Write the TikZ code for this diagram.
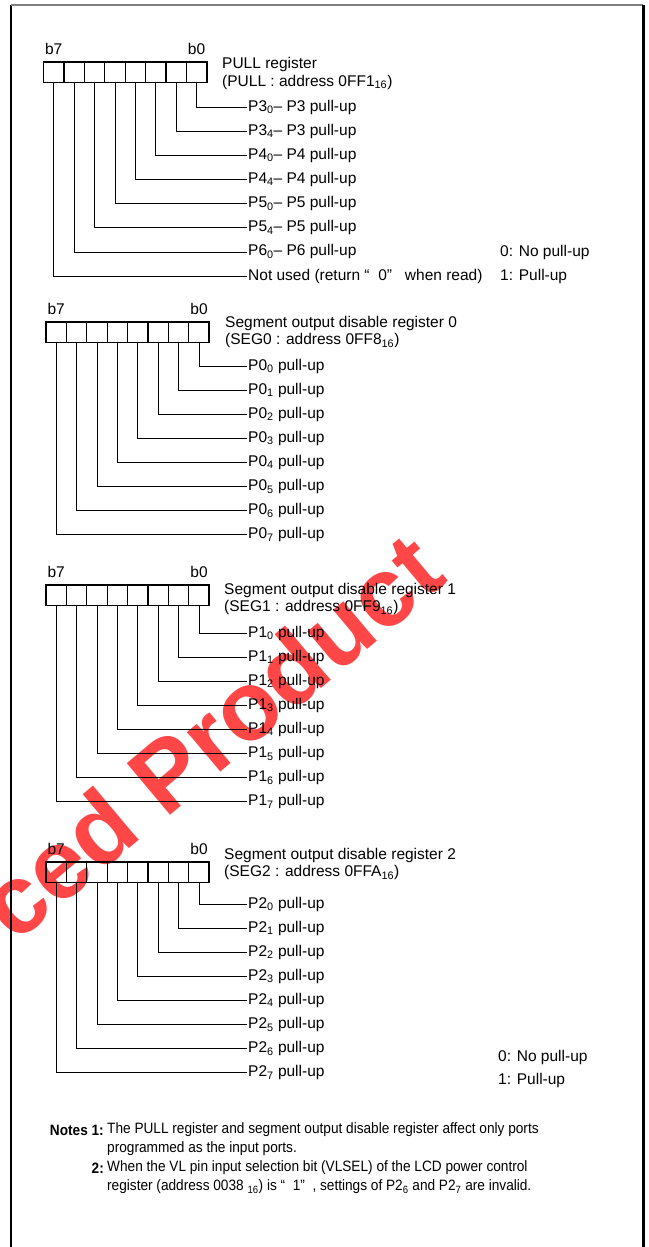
\documentclass[tikz,border=0pt]{standalone}
\usepackage{fontspec}
\setmainfont{Liberation Sans}
\newfontfamily\notesfont[FakeStretch=0.91]{Liberation Sans}
\usetikzlibrary{positioning}

\newcommand{\sbs}[1]{\textsubscript{#1}}

\tikzset{
  cell/.style={draw, line width=1.2pt, minimum width=20.4pt, minimum height=20.5pt, inner sep=0pt, outer sep=0pt},
  bitlbl/.style={inner sep=0pt},
  portlbl/.style={anchor=west, inner xsep=1pt, inner ysep=0pt},
  conn/.style={line width=0.8pt},
  frame/.style={line width=2.4pt},
  note/.style={anchor=west, inner sep=0pt, font=\notesfont\fontsize{15}{17}\selectfont},
  notehead/.style={anchor=east, inner sep=0pt, font=\notesfont\fontsize{15}{17}\selectfont\bfseries},
}

\begin{document}
\begin{tikzpicture}[x=1pt, y=-1pt, font=\fontsize{15.5}{17.5}\selectfont]
\useasboundingbox (0,0) rectangle (648,1247);

% watermark
\node[rotate=40, text=red!72!white, font=\bfseries\fontsize{98}{98}\selectfont, anchor=south west, inner sep=0pt] (wmark) at (16,946) {ced Product};

% frame
\draw[frame] (11,1247) -- (11,5);
\draw[line width=1.2pt, gray] (11,5) -- (643,5);
\draw[frame, line width=3pt] (643,5) -- (643,1247);

% registers: number / box left / box top
\foreach \r/\bx/\by in {1/43.5/62, 2/46/322, 3/46/585, 4/46/862} {
  \foreach \i in {0,...,7}
    \node[cell] (bit\r\i) at ({\bx+20.4*(7-\i)+10.2}, \by+10.25) {};
  \draw[line width=1.8pt] (bit\r7.north west) rectangle (bit\r0.south east);
  \node[bitlbl, above=7pt of bit\r7] (hi\r) {b7};
  \node[bitlbl, above=7pt of bit\r0] (lo\r) {b0};
}

% titles
\node[anchor=west, align=left, inner sep=0pt] (ttl1) at (222,73.5) {PULL register\\(PULL : address 0FF1\sbs{16})};
\node[anchor=west, align=left, inner sep=0pt] (ttl2) at (225,332) {Segment output disable register 0\\(SEG0 : address 0FF8\sbs{16})};
\node[anchor=west, align=left, inner sep=0pt] (ttl3) at (224,599) {Segment output disable register 1\\(SEG1 : address 0FF9\sbs{16})};
\node[anchor=west, align=left, inner sep=0pt] (ttl4) at (224,864) {Segment output disable register 2\\(SEG2 : address 0FFA\sbs{16})};

% PULL register bits
\foreach \i/\txt in {0/{P3\sbs{0}-- P3 pull-up}, 1/{P3\sbs{4}-- P3 pull-up},
                     2/{P4\sbs{0}-- P4 pull-up}, 3/{P4\sbs{4}-- P4 pull-up},
                     4/{P5\sbs{0}-- P5 pull-up}, 5/{P5\sbs{4}-- P5 pull-up},
                     6/{P6\sbs{0}-- P6 pull-up}, 7/{Not used (return “ \ 0”\ \ \ when read)}} {
  \node[portlbl] (lbl1\i) at (247,107+24.15*\i) {\txt};
  \draw[conn] (bit1\i.south) |- (lbl1\i.west);
}

% segment registers bits
\foreach \r/\p/\ly in {2/0/366, 3/1/633, 4/2/904} {
  \foreach \i in {0,...,7} {
    \node[portlbl] (lbl\r\i) at (247,\ly+24.1*\i) {P\p\sbs{\i} pull-up};
    \draw[conn] (bit\r\i.south) |- (lbl\r\i.west);
  }
}

% legends
\node[anchor=west, inner sep=0pt] (no1) at (500,252) {0: No pull-up};
\node[anchor=west, inner sep=0pt] (yes1) at (500,276) {1: Pull-up};
\node[anchor=west, inner sep=0pt] (no4) at (498,1057) {0: No pull-up};
\node[anchor=west, inner sep=0pt] (yes4) at (498,1080) {1: Pull-up};

% notes
\node[notehead] (nhead1) at (104,1130) {Notes 1:};
\node[note] (note1a) at (107,1130) {The PULL register and segment output disable register affect only ports};
\node[note] (note1b) at (107,1149) {programmed as the input ports.};
\node[notehead] (nhead2) at (104,1168) {2:};
\node[note] (note2a) at (107,1168) {When the VL pin input selection bit (VLSEL) of the LCD power control};
\node[note] (note2b) at (107,1187) {register (address 0038 \sbs{16}) is “ \ 1”\ \ , settings of P2\sbs{6} and P2\sbs{7} are invalid.};
\end{tikzpicture}
\end{document}
